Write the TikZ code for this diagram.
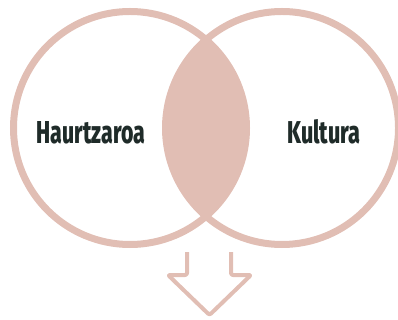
\documentclass[tikz,border=0pt]{standalone}
\usepackage{fontspec}
\setmainfont{Fira Sans}
\newfontfamily\heavyfont{Fira Sans ExtraBold}
\usepackage{graphicx}
\definecolor{ring}{HTML}{E1BEB4}
\definecolor{ink}{HTML}{1F2B29}
\begin{document}
\begin{tikzpicture}[x=1pt,y=-1pt,
  ringline/.style={draw=ring,line width=7pt},
  label/.style={inner sep=0pt,anchor=base west,text=ink,font=\heavyfont}]
\useasboundingbox (0,0) rectangle (398,320);
\coordinate (cl) at (130,128);
\coordinate (cr) at (282,128);
\begin{scope}
  \clip (cl) circle[radius=116.5pt];
  \fill[ring] (cr) circle[radius=116.5pt];
\end{scope}
\draw[ringline] (cl) circle[radius=116.5pt];
\draw[ringline] (cr) circle[radius=116.5pt];
\node[label] (h) at (36.7,143.3) {\resizebox{108pt}{22pt}{Haurtzaroa}};
\node[label] (k) at (287.3,143.3) {\resizebox{73pt}{24pt}{Kultura}};
\coordinate (a1) at (187,252);
\coordinate (a2) at (187,275);
\coordinate (a3) at (168,275);
\coordinate (a4) at (209.5,315);
\coordinate (a5) at (251,275);
\coordinate (a6) at (231,275);
\coordinate (a7) at (231,252);
\draw[ring,line width=4pt,line join=round,rounded corners=2pt]
  (a1) -- (a2) -- (a3) -- (a4) -- (a5) -- (a6) -- (a7);
\end{tikzpicture}
\end{document}
